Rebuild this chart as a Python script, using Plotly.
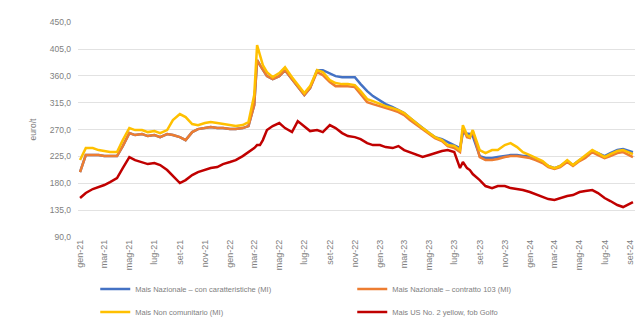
import plotly.graph_objects as go

dates = [
    "2021-01-01", "2021-01-15", "2021-02-01", "2021-02-15", "2021-03-01", "2021-03-15",
    "2021-04-01", "2021-04-15", "2021-05-01", "2021-05-15", "2021-06-01", "2021-06-15",
    "2021-07-01", "2021-07-15", "2021-08-01", "2021-08-15", "2021-09-01", "2021-09-15",
    "2021-10-01", "2021-10-15", "2021-11-01", "2021-11-15", "2021-12-01", "2021-12-15",
    "2022-01-01", "2022-01-15", "2022-02-01", "2022-02-15", "2022-03-01", "2022-03-08",
    "2022-03-15", "2022-03-22", "2022-04-01", "2022-04-15", "2022-05-01", "2022-05-15",
    "2022-06-01", "2022-06-15", "2022-07-01", "2022-07-15", "2022-08-01", "2022-08-15",
    "2022-09-01", "2022-09-15", "2022-10-01", "2022-10-15", "2022-11-01", "2022-11-15",
    "2022-12-01", "2022-12-15",
    "2023-01-01", "2023-01-15", "2023-02-01", "2023-02-15", "2023-03-01", "2023-03-15",
    "2023-04-01", "2023-04-15", "2023-05-01", "2023-05-15", "2023-06-01", "2023-06-15",
    "2023-07-01", "2023-07-15", "2023-07-22", "2023-08-01", "2023-08-08", "2023-08-15",
    "2023-09-01", "2023-09-15", "2023-10-01", "2023-10-15", "2023-11-01", "2023-11-15",
    "2023-12-01", "2023-12-15",
    "2024-01-01", "2024-01-15", "2024-02-01", "2024-02-15", "2024-03-01", "2024-03-15",
    "2024-04-01", "2024-04-15", "2024-05-01", "2024-05-15", "2024-06-01", "2024-06-15",
    "2024-07-01", "2024-07-15", "2024-08-01", "2024-08-15", "2024-09-01", "2024-09-08",
]

mais_caratteristiche = [
    198.8, 227.3, 227.3, 227.3, 225.6, 225.6, 225.6, 242.4, 264.1, 260.8, 262.5, 259.1,
    260.8, 257.4, 262.5, 260.8, 257.4, 252.4, 265.8, 270.8, 272.5, 274.2, 272.5, 272.5,
    270.8, 270.8, 272.5, 275.9, 311.0, 386.4, 378.0, 369.6, 359.6, 354.6, 359.6, 369.6,
    354.6, 341.2, 327.8, 339.5, 369.6, 369.6, 364.6, 359.6, 357.9, 357.9, 357.9, 346.2,
    334.5, 326.1,
    319.4, 312.7, 307.7, 302.7, 297.6, 289.3, 279.2, 272.5, 264.1, 257.4, 254.1, 249.1,
    244.0, 239.0, 264.1, 262.5, 262.5, 259.1, 225.6, 222.3, 222.3, 224.0, 225.6, 227.3,
    227.3, 225.6,
    225.6, 220.6, 215.6, 208.9, 205.5, 208.9, 217.3, 210.6, 218.9, 224.0, 234.0, 230.7,
    225.6, 230.7, 235.7, 237.4, 234.0, 232.3,
]

mais_contratto_103 = [
    198.8, 227.3, 227.3, 227.3, 225.6, 225.6, 225.6, 242.4, 264.1, 260.8, 262.5, 259.1,
    260.8, 257.4, 262.5, 260.8, 257.4, 252.4, 265.8, 270.8, 272.5, 274.2, 272.5, 272.5,
    270.8, 270.8, 272.5, 275.9, 311.0, 386.4, 378.0, 369.6, 359.6, 354.6, 359.6, 369.6,
    354.6, 341.2, 327.8, 339.5, 366.3, 361.3, 349.5, 342.8, 342.8, 342.8, 341.2, 329.4,
    316.0, 312.7,
    309.4, 306.0, 302.7, 299.3, 294.3, 285.9, 277.5, 270.8, 262.5, 255.8, 250.7, 242.4,
    239.0, 232.3, 272.5, 257.4, 255.8, 267.5, 224.0, 218.9, 218.9, 220.6, 224.0, 225.6,
    225.6, 224.0,
    222.3, 218.9, 213.9, 207.2, 203.9, 207.2, 215.6, 208.9, 217.3, 222.3, 232.3, 227.3,
    222.3, 225.6, 230.7, 232.3, 225.6, 224.0,
]

mais_non_comunitario = [
    218.9, 239.0, 239.0, 235.7, 234.0, 232.3, 232.3, 252.4, 272.5, 269.2, 269.2, 265.8,
    267.5, 264.1, 269.2, 285.9, 296.0, 290.9, 279.2, 277.5, 280.9, 282.6, 280.9, 279.2,
    277.5, 275.9, 277.5, 282.6, 327.8, 411.5, 394.7, 378.0, 366.3, 357.9, 364.6, 374.7,
    357.9, 344.5, 331.1, 342.8, 369.6, 366.3, 352.9, 347.9, 346.2, 346.2, 344.5, 334.5,
    321.1, 317.7,
    312.7, 309.4, 306.0, 302.7, 297.6, 289.3, 279.2, 272.5, 264.1, 257.4, 252.4, 244.0,
    242.4, 235.7, 277.5, 260.8, 257.4, 269.2, 235.7, 230.7, 235.7, 235.7, 244.0, 247.4,
    240.7, 232.3,
    227.3, 222.3, 217.3, 208.9, 205.5, 208.9, 218.9, 210.6, 218.9, 225.6, 235.7, 230.7,
    224.0, 229.0, 234.0, 235.7, 230.7, 229.0,
]

mais_us_no2 = [
    155.3, 163.7, 170.4, 173.7, 177.1, 182.1, 188.8, 205.5, 224.0, 218.9, 215.6, 212.2,
    213.9, 210.6, 202.2, 192.1, 180.4, 185.4, 193.8, 198.8, 202.2, 205.5, 207.2, 212.2,
    215.6, 218.9, 225.6, 232.3, 239.0, 244.0, 244.0, 252.4, 269.2, 275.9, 280.9, 272.5,
    265.8, 284.2, 275.9, 267.5, 269.2, 265.8, 277.5, 272.5, 264.1, 259.1, 257.4, 254.1,
    247.4, 244.0,
    244.0, 240.7, 239.0, 242.4, 235.7, 232.3, 227.3, 224.0, 227.3, 230.7, 234.0, 235.7,
    232.3, 205.5, 215.6, 205.5, 202.2, 195.5, 185.4, 175.4, 172.0, 175.4, 175.4, 172.0,
    170.4, 168.7,
    165.4, 162.0, 157.0, 153.6, 152.0, 155.3, 158.7, 160.3, 165.4, 167.0, 168.7, 163.7,
    155.3, 150.3, 143.6, 140.2, 146.9, 148.6,
]

series_names = [
    "Mais Nazionale \u2013 con caratteristiche (MI)",
    "Mais Nazionale \u2013 contratto 103 (MI)",
    "Mais Non comunitario (MI)",
    "Mais US No. 2 yellow, fob Golfo",
]
series_values = [mais_caratteristiche, mais_contratto_103, mais_non_comunitario, mais_us_no2]
series_colors = ["#4472C4", "#ED7D31", "#FFC000", "#C00000"]
series_legends = ["legend", "legend", "legend2", "legend2"]

tick_dates = [
    "2021-01-01", "2021-03-01", "2021-05-01", "2021-07-01", "2021-09-01", "2021-11-01",
    "2022-01-01", "2022-03-01", "2022-05-01", "2022-07-01", "2022-09-01", "2022-11-01",
    "2023-01-01", "2023-03-01", "2023-05-01", "2023-07-01", "2023-09-01", "2023-11-01",
    "2024-01-01", "2024-03-01", "2024-05-01", "2024-07-01", "2024-09-01",
]
tick_labels = [
    "gen-21", "mar-21", "mag-21", "lug-21", "set-21", "nov-21",
    "gen-22", "mar-22", "mag-22", "lug-22", "set-22", "nov-22",
    "gen-23", "mar-23", "mag-23", "lug-23", "set-23", "nov-23",
    "gen-24", "mar-24", "mag-24", "lug-24", "set-24",
]
y_ticks = [90, 135, 180, 225, 270, 315, 360, 405, 450]
y_title = "euro/t"

fig = go.Figure()
for name, vals, col, lg in zip(series_names, series_values, series_colors, series_legends):
    fig.add_trace(go.Scatter(
        x=dates, y=vals, name=name, mode="lines",
        line=dict(color=col, width=2.5),
        legend=lg,
    ))

legend_font = dict(family="Liberation Sans, Arial, sans-serif", size=7.5, color="#808080")
fig.update_layout(
    width=635, height=320,
    margin=dict(l=78, r=0, t=22, b=83, autoexpand=False),
    paper_bgcolor="white", plot_bgcolor="white",
    separators=",.",
    font=dict(family="Liberation Sans, Arial, sans-serif", size=7.5, color="#808080"),
    showlegend=True,
    legend=dict(orientation="h", x=0.15, xanchor="left", xref="container",
                y=0.097, yanchor="middle", yref="container",
                entrywidth=212, entrywidthmode="pixels", itemwidth=30,
                font=legend_font, bgcolor="rgba(0,0,0,0)"),
    legend2=dict(orientation="h", x=0.15, xanchor="left", xref="container",
                 y=0.025, yanchor="middle", yref="container",
                 entrywidth=212, entrywidthmode="pixels", itemwidth=30,
                 font=legend_font, bgcolor="rgba(0,0,0,0)"),
    xaxis=dict(
        type="date", range=["2020-12-27", "2024-09-13"],
        tickvals=tick_dates, ticktext=tick_labels, tickangle=-90,
        showgrid=False, zeroline=False, showline=False, ticks="",
        tickfont=dict(size=9, color="#808080"), automargin=False,
    ),
    yaxis=dict(
        range=[90, 450.3], tickvals=y_ticks, tickformat=".1f",
        showgrid=True, gridcolor="#e2e2e2", gridwidth=1,
        zeroline=False, showline=False, ticks="",
        ticklabelstandoff=6,
        tickfont=dict(size=8.5, color="#808080"), automargin=False,
    ),
    annotations=[dict(
        text=y_title, textangle=-90, showarrow=False,
        xref="paper", yref="paper", x=-0.081, y=0.5,
        xanchor="center", yanchor="middle",
        font=dict(size=8.5, color="#808080"),
    )],
)

fig.write_html("out.html")
